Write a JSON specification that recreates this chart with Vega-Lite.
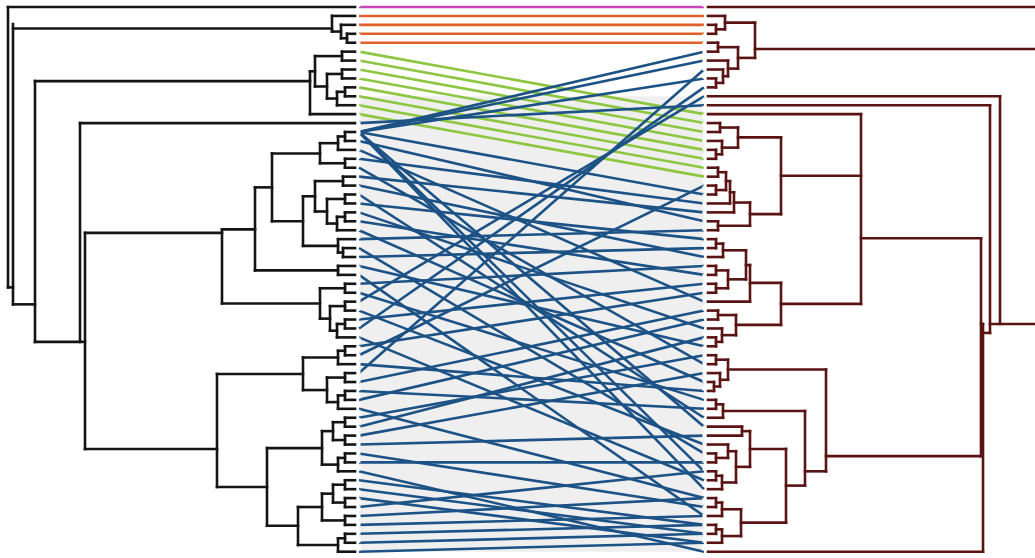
{
"$schema":"https://vega.github.io/schema/vega-lite/v6.json",
"padding":0,"spacing":0,"background":"white",
"config":{"view":{"stroke":null}},
"hconcat":[
{"width":355,"height":558,
"data":{"values":[
{"h1":0,"h2":347,"y1":0,"y2":0},{"h1":347,"h2":347,"y1":0,"y2":31.4},{"h1":342,"h2":347,"y1":31.4,"y2":31.4},{"h1":342,"h2":342,"y1":1.9,"y2":33.3},
{"h1":0,"h2":23,"y1":1,"y2":1},{"h1":0,"h2":14,"y1":2,"y2":2},{"h1":0,"h2":8,"y1":3,"y2":3},{"h1":0,"h2":8,"y1":4,"y2":4},{"h1":8,"h2":8,"y1":3,"y2":4},{"h1":8,"h2":14,"y1":3.5,"y2":3.5},{"h1":14,"h2":14,"y1":2,"y2":3.5},{"h1":14,"h2":23,"y1":2.75,"y2":2.75},{"h1":23,"h2":23,"y1":1,"y2":2.75},{"h1":23,"h2":342,"y1":2.4,"y2":2.4},
{"h1":320,"h2":342,"y1":33.3,"y2":33.3},{"h1":320,"h2":320,"y1":8.3,"y2":37.5},
{"h1":0,"h2":13,"y1":5,"y2":5},{"h1":0,"h2":13,"y1":6,"y2":6},{"h1":13,"h2":13,"y1":5,"y2":6},{"h1":13,"h2":40,"y1":5.5,"y2":5.5},
{"h1":0,"h2":13,"y1":7,"y2":7},{"h1":0,"h2":13,"y1":8,"y2":8},{"h1":13,"h2":13,"y1":7,"y2":8},{"h1":13,"h2":28,"y1":7.5,"y2":7.5},
{"h1":0,"h2":10,"y1":9,"y2":9},{"h1":0,"h2":10,"y1":10,"y2":10},{"h1":10,"h2":10,"y1":9,"y2":10},{"h1":10,"h2":18,"y1":9.5,"y2":9.5},
{"h1":0,"h2":18,"y1":11,"y2":11},{"h1":18,"h2":18,"y1":9.5,"y2":11},{"h1":18,"h2":28,"y1":10.25,"y2":10.25},
{"h1":28,"h2":28,"y1":7.5,"y2":10.25},{"h1":28,"h2":40,"y1":8.9,"y2":8.9},
{"h1":40,"h2":40,"y1":5.5,"y2":8.9},{"h1":40,"h2":45,"y1":7.2,"y2":7.2},
{"h1":0,"h2":45,"y1":12,"y2":12},{"h1":45,"h2":45,"y1":7.2,"y2":12},{"h1":45,"h2":320,"y1":8.3,"y2":8.3},
{"h1":275,"h2":320,"y1":37.5,"y2":37.5},{"h1":275,"h2":275,"y1":13,"y2":37.5},{"h1":0,"h2":275,"y1":13,"y2":13},
{"h1":270,"h2":275,"y1":37.5,"y2":37.5},{"h1":270,"h2":270,"y1":25.3,"y2":49.5},{"h1":133,"h2":270,"y1":25.3,"y2":25.3},{"h1":138,"h2":270,"y1":49.5,"y2":49.5},
{"h1":0,"h2":10,"y1":14,"y2":14},{"h1":0,"h2":10,"y1":15,"y2":15},{"h1":10,"h2":10,"y1":14,"y2":15},{"h1":10,"h2":17,"y1":14.5,"y2":14.5},
{"h1":0,"h2":17,"y1":16,"y2":16},{"h1":17,"h2":17,"y1":14.5,"y2":16},{"h1":17,"h2":35,"y1":15.25,"y2":15.25},
{"h1":0,"h2":10,"y1":17,"y2":17},{"h1":0,"h2":10,"y1":18,"y2":18},{"h1":10,"h2":10,"y1":17,"y2":18},{"h1":10,"h2":35,"y1":17.5,"y2":17.5},
{"h1":35,"h2":35,"y1":15.25,"y2":17.5},{"h1":35,"h2":83,"y1":16.4,"y2":16.4},
{"h1":0,"h2":12,"y1":19,"y2":19},{"h1":0,"h2":12,"y1":20,"y2":20},{"h1":12,"h2":12,"y1":19,"y2":20},{"h1":12,"h2":40,"y1":19.5,"y2":19.5},
{"h1":0,"h2":10,"y1":21,"y2":21},{"h1":0,"h2":10,"y1":22,"y2":22},{"h1":10,"h2":10,"y1":21,"y2":22},{"h1":10,"h2":28,"y1":21.5,"y2":21.5},
{"h1":0,"h2":10,"y1":23,"y2":23},{"h1":0,"h2":10,"y1":24,"y2":24},{"h1":10,"h2":10,"y1":23,"y2":24},{"h1":10,"h2":18,"y1":23.5,"y2":23.5},
{"h1":0,"h2":18,"y1":25,"y2":25},{"h1":18,"h2":18,"y1":23.5,"y2":25},{"h1":18,"h2":28,"y1":24.25,"y2":24.25},
{"h1":28,"h2":28,"y1":21.5,"y2":24.25},{"h1":28,"h2":40,"y1":22.9,"y2":22.9},
{"h1":40,"h2":40,"y1":19.5,"y2":22.9},{"h1":40,"h2":52,"y1":21.2,"y2":21.2},
{"h1":0,"h2":17,"y1":26,"y2":26},{"h1":0,"h2":12,"y1":27,"y2":27},{"h1":0,"h2":12,"y1":28,"y2":28},{"h1":12,"h2":12,"y1":27,"y2":28},{"h1":12,"h2":17,"y1":27.5,"y2":27.5},
{"h1":17,"h2":17,"y1":26,"y2":27.5},{"h1":17,"h2":52,"y1":26.75,"y2":26.75},
{"h1":52,"h2":52,"y1":21.2,"y2":26.75},{"h1":52,"h2":83,"y1":24,"y2":24},
{"h1":83,"h2":83,"y1":16.4,"y2":24},{"h1":83,"h2":100,"y1":20.2,"y2":20.2},
{"h1":0,"h2":17,"y1":29,"y2":29},{"h1":0,"h2":17,"y1":30,"y2":30},{"h1":17,"h2":17,"y1":29,"y2":30},{"h1":17,"h2":100,"y1":29.5,"y2":29.5},
{"h1":100,"h2":100,"y1":20.2,"y2":29.5},{"h1":100,"h2":133,"y1":24.9,"y2":24.9},
{"h1":0,"h2":10,"y1":31,"y2":31},{"h1":0,"h2":10,"y1":32,"y2":32},{"h1":10,"h2":10,"y1":31,"y2":32},{"h1":10,"h2":35,"y1":31.5,"y2":31.5},
{"h1":0,"h2":10,"y1":33,"y2":33},{"h1":0,"h2":10,"y1":34,"y2":34},{"h1":10,"h2":10,"y1":33,"y2":34},{"h1":10,"h2":25,"y1":33.5,"y2":33.5},
{"h1":0,"h2":10,"y1":35,"y2":35},{"h1":0,"h2":10,"y1":36,"y2":36},{"h1":10,"h2":10,"y1":35,"y2":36},{"h1":10,"h2":18,"y1":35.5,"y2":35.5},
{"h1":0,"h2":18,"y1":37,"y2":37},{"h1":18,"h2":18,"y1":35.5,"y2":37},{"h1":18,"h2":25,"y1":36.25,"y2":36.25},
{"h1":25,"h2":25,"y1":33.5,"y2":36.25},{"h1":25,"h2":35,"y1":34.9,"y2":34.9},
{"h1":35,"h2":35,"y1":31.5,"y2":34.9},{"h1":35,"h2":133,"y1":33.2,"y2":33.2},
{"h1":133,"h2":133,"y1":24.9,"y2":33.2},
{"h1":0,"h2":10,"y1":38,"y2":38},{"h1":0,"h2":10,"y1":39,"y2":39},{"h1":10,"h2":10,"y1":38,"y2":39},{"h1":10,"h2":17,"y1":38.5,"y2":38.5},
{"h1":0,"h2":17,"y1":40,"y2":40},{"h1":17,"h2":17,"y1":38.5,"y2":40},{"h1":17,"h2":52,"y1":39.25,"y2":39.25},
{"h1":0,"h2":10,"y1":41,"y2":41},{"h1":0,"h2":10,"y1":42,"y2":42},{"h1":10,"h2":10,"y1":41,"y2":42},{"h1":10,"h2":28,"y1":41.5,"y2":41.5},
{"h1":0,"h2":10,"y1":43,"y2":43},{"h1":0,"h2":10,"y1":44,"y2":44},{"h1":10,"h2":10,"y1":43,"y2":44},{"h1":10,"h2":17,"y1":43.5,"y2":43.5},
{"h1":0,"h2":17,"y1":45,"y2":45},{"h1":17,"h2":17,"y1":43.5,"y2":45},{"h1":17,"h2":28,"y1":44.25,"y2":44.25},
{"h1":28,"h2":28,"y1":41.5,"y2":44.25},{"h1":28,"h2":52,"y1":42.9,"y2":42.9},
{"h1":52,"h2":52,"y1":39.25,"y2":42.9},{"h1":52,"h2":138,"y1":41.1,"y2":41.1},
{"h1":0,"h2":10,"y1":46,"y2":46},{"h1":0,"h2":10,"y1":47,"y2":47},{"h1":10,"h2":10,"y1":46,"y2":47},{"h1":10,"h2":22,"y1":46.5,"y2":46.5},
{"h1":0,"h2":10,"y1":48,"y2":48},{"h1":0,"h2":10,"y1":49,"y2":49},{"h1":10,"h2":10,"y1":48,"y2":49},{"h1":10,"h2":22,"y1":48.5,"y2":48.5},
{"h1":22,"h2":22,"y1":46.5,"y2":48.5},{"h1":22,"h2":33,"y1":47.5,"y2":47.5},
{"h1":0,"h2":10,"y1":50,"y2":50},{"h1":0,"h2":10,"y1":51,"y2":51},{"h1":10,"h2":10,"y1":50,"y2":51},{"h1":10,"h2":17,"y1":50.5,"y2":50.5},
{"h1":0,"h2":17,"y1":52,"y2":52},{"h1":17,"h2":17,"y1":50.5,"y2":52},{"h1":17,"h2":33,"y1":51.25,"y2":51.25},
{"h1":33,"h2":33,"y1":47.5,"y2":51.25},{"h1":33,"h2":88,"y1":49.4,"y2":49.4},
{"h1":0,"h2":10,"y1":53,"y2":53},{"h1":0,"h2":10,"y1":54,"y2":54},{"h1":10,"h2":10,"y1":53,"y2":54},{"h1":10,"h2":22,"y1":53.5,"y2":53.5},
{"h1":0,"h2":10,"y1":55,"y2":55},{"h1":0,"h2":10,"y1":56,"y2":56},{"h1":10,"h2":10,"y1":55,"y2":56},{"h1":10,"h2":22,"y1":55.5,"y2":55.5},
{"h1":22,"h2":22,"y1":53.5,"y2":55.5},{"h1":22,"h2":33,"y1":54.5,"y2":54.5},
{"h1":0,"h2":10,"y1":57,"y2":57},{"h1":0,"h2":10,"y1":58,"y2":58},{"h1":10,"h2":10,"y1":57,"y2":58},{"h1":10,"h2":33,"y1":57.5,"y2":57.5},
{"h1":33,"h2":33,"y1":54.5,"y2":57.5},{"h1":33,"h2":57,"y1":56,"y2":56},
{"h1":0,"h2":10,"y1":59,"y2":59},{"h1":0,"h2":10,"y1":60,"y2":60},{"h1":10,"h2":10,"y1":59,"y2":60},{"h1":10,"h2":17,"y1":59.5,"y2":59.5},
{"h1":0,"h2":17,"y1":61,"y2":61},{"h1":17,"h2":17,"y1":59.5,"y2":61},{"h1":17,"h2":57,"y1":60.25,"y2":60.25},
{"h1":57,"h2":57,"y1":56,"y2":60.25},{"h1":57,"h2":88,"y1":58.1,"y2":58.1},
{"h1":88,"h2":88,"y1":49.4,"y2":58.1},{"h1":88,"h2":138,"y1":53.75,"y2":53.75},
{"h1":138,"h2":138,"y1":41.1,"y2":53.75}
]},
"mark":{"type":"rule","color":"#141414","strokeWidth":2.6,"strokeCap":"square"},
"encoding":{
"x":{"field":"h1","type":"quantitative","scale":{"domain":[0,355],"reverse":true,"nice":false,"zero":false},"axis":null},
"x2":{"field":"h2"},
"y":{"field":"y1","type":"quantitative","scale":{"domain":[-0.672,61.82],"reverse":true,"nice":false,"zero":false},"axis":null},
"y2":{"field":"y2"}}
},
{"width":345,"height":558,
"layer":[
{"data":{"values":[{"y1":10,"y2":61}]},
"mark":{"type":"rect","color":"#efefef"},
"encoding":{
"x":{"datum":0,"type":"quantitative","scale":{"domain":[0,1],"nice":false,"zero":false},"axis":null},
"x2":{"datum":1},
"y":{"field":"y1","type":"quantitative","scale":{"domain":[-0.672,61.82],"reverse":true,"nice":false,"zero":false},"axis":null},
"y2":{"field":"y2"}}},
{"data":{"values":[
{"l":0,"r":0,"g":"p"},
{"l":1,"r":1,"g":"o"},{"l":2,"r":2,"g":"o"},{"l":3,"r":3,"g":"o"},{"l":4,"r":4,"g":"o"},
{"l":5,"r":12,"g":"g"},{"l":6,"r":13,"g":"g"},{"l":7,"r":14,"g":"g"},{"l":8,"r":15,"g":"g"},{"l":9,"r":16,"g":"g"},{"l":10,"r":17,"g":"g"},{"l":11,"r":18,"g":"g"},{"l":12,"r":19,"g":"g"},
{"l":13,"r":11,"g":"b"},{"l":14,"r":5,"g":"b"},{"l":14,"r":6,"g":"b"},{"l":14,"r":8,"g":"b"},{"l":14,"r":21,"g":"b"},{"l":14,"r":47,"g":"b"},{"l":14,"r":52,"g":"b"},{"l":14,"r":54,"g":"b"},
{"l":15,"r":24,"g":"b"},{"l":16,"r":33,"g":"b"},{"l":17,"r":22,"g":"b"},{"l":18,"r":40,"g":"b"},{"l":19,"r":23,"g":"b"},{"l":20,"r":28,"g":"b"},{"l":21,"r":46,"g":"b"},{"l":22,"r":26,"g":"b"},{"l":23,"r":36,"g":"b"},{"l":24,"r":30,"g":"b"},{"l":25,"r":42,"g":"b"},{"l":26,"r":25,"g":"b"},{"l":27,"r":50,"g":"b"},{"l":28,"r":27,"g":"b"},{"l":29,"r":38,"g":"b"},{"l":30,"r":57,"g":"b"},{"l":31,"r":29,"g":"b"},{"l":32,"r":44,"g":"b"},{"l":33,"r":10,"g":"b"},{"l":34,"r":49,"g":"b"},{"l":35,"r":31,"g":"b"},{"l":36,"r":9,"g":"b"},{"l":37,"r":53,"g":"b"},{"l":38,"r":32,"g":"b"},{"l":39,"r":20,"g":"b"},{"l":40,"r":43,"g":"b"},{"l":41,"r":7,"g":"b"},{"l":42,"r":34,"g":"b"},{"l":43,"r":45,"g":"b"},{"l":44,"r":35,"g":"b"},{"l":45,"r":55,"g":"b"},{"l":46,"r":39,"g":"b"},{"l":47,"r":37,"g":"b"},{"l":48,"r":41,"g":"b"},{"l":49,"r":48,"g":"b"},{"l":50,"r":56,"g":"b"},{"l":51,"r":51,"g":"b"},{"l":52,"r":61,"g":"b"},{"l":53,"r":58,"g":"b"},{"l":54,"r":59,"g":"b"},{"l":55,"r":60,"g":"b"},{"l":56,"r":52,"g":"b"},{"l":57,"r":55,"g":"b"},{"l":58,"r":57,"g":"b"},{"l":59,"r":58,"g":"b"},{"l":60,"r":59,"g":"b"},{"l":61,"r":60,"g":"b"}
]},
"mark":{"type":"rule","strokeWidth":2.6},
"encoding":{
"x":{"datum":0,"type":"quantitative"},
"x2":{"datum":1},
"y":{"field":"l","type":"quantitative"},
"y2":{"field":"r"},
"color":{"field":"g","type":"nominal","scale":{"domain":["p","o","g","b"],"range":["#c546b4","#e0602c","#8dc641","#1c5285"]},"legend":null}}},
{"data":{"values":[{"s":0},{"s":1}]},
"mark":{"type":"rule","color":"white","strokeWidth":3,"strokeDash":[5,3]},
"encoding":{
"x":{"field":"s","type":"quantitative"},
"y":{"datum":-0.6,"type":"quantitative"},
"y2":{"datum":61.7}}}
]},
{"width":335,"height":558,
"data":{"values":[
{"h1":0,"h2":335,"y1":0,"y2":0},
{"h1":0,"h2":17,"y1":1,"y2":1},{"h1":0,"h2":8,"y1":2,"y2":2},{"h1":0,"h2":8,"y1":3,"y2":3},{"h1":8,"h2":8,"y1":2,"y2":3},{"h1":8,"h2":17,"y1":2.5,"y2":2.5},{"h1":17,"h2":17,"y1":1,"y2":2.5},{"h1":17,"h2":47,"y1":1.75,"y2":1.75},
{"h1":0,"h2":10,"y1":4,"y2":4},{"h1":0,"h2":10,"y1":5,"y2":5},{"h1":10,"h2":10,"y1":4,"y2":5},{"h1":10,"h2":30,"y1":4.5,"y2":4.5},
{"h1":0,"h2":20,"y1":6,"y2":6},{"h1":0,"h2":15,"y1":7,"y2":7},{"h1":0,"h2":8,"y1":8,"y2":8},{"h1":0,"h2":8,"y1":9,"y2":9},{"h1":8,"h2":8,"y1":8,"y2":9},{"h1":8,"h2":15,"y1":8.5,"y2":8.5},
{"h1":15,"h2":15,"y1":7,"y2":8.5},{"h1":15,"h2":20,"y1":7.75,"y2":7.75},{"h1":20,"h2":20,"y1":6,"y2":7.75},{"h1":20,"h2":30,"y1":6.9,"y2":6.9},
{"h1":30,"h2":30,"y1":4.5,"y2":6.9},{"h1":30,"h2":47,"y1":5.7,"y2":5.7},{"h1":47,"h2":47,"y1":1.75,"y2":5.7},{"h1":47,"h2":335,"y1":4.7,"y2":4.7},
{"h1":0,"h2":292,"y1":10,"y2":10},{"h1":0,"h2":282,"y1":11,"y2":11},{"h1":0,"h2":153,"y1":12,"y2":12},
{"h1":0,"h2":12,"y1":13,"y2":13},{"h1":0,"h2":12,"y1":14,"y2":14},{"h1":12,"h2":12,"y1":13,"y2":14},{"h1":12,"h2":30,"y1":13.5,"y2":13.5},
{"h1":0,"h2":14,"y1":15,"y2":15},{"h1":0,"h2":8,"y1":16,"y2":16},{"h1":0,"h2":8,"y1":17,"y2":17},{"h1":8,"h2":8,"y1":16,"y2":17},{"h1":8,"h2":14,"y1":16.5,"y2":16.5},
{"h1":14,"h2":14,"y1":15,"y2":16.5},{"h1":14,"h2":30,"y1":15.75,"y2":15.75},{"h1":30,"h2":30,"y1":13.5,"y2":15.75},{"h1":30,"h2":73,"y1":14.6,"y2":14.6},
{"h1":0,"h2":10,"y1":18,"y2":18},{"h1":0,"h2":10,"y1":19,"y2":19},{"h1":10,"h2":10,"y1":18,"y2":19},{"h1":10,"h2":18,"y1":18.5,"y2":18.5},
{"h1":0,"h2":8,"y1":20,"y2":20},{"h1":0,"h2":8,"y1":21,"y2":21},{"h1":8,"h2":8,"y1":20,"y2":21},{"h1":8,"h2":18,"y1":20.5,"y2":20.5},
{"h1":18,"h2":18,"y1":18.5,"y2":20.5},{"h1":18,"h2":22,"y1":19.5,"y2":19.5},
{"h1":0,"h2":22,"y1":22,"y2":22},{"h1":22,"h2":22,"y1":19.5,"y2":22},{"h1":22,"h2":26,"y1":20.75,"y2":20.75},
{"h1":0,"h2":26,"y1":23,"y2":23},{"h1":26,"h2":26,"y1":20.75,"y2":23},{"h1":26,"h2":42,"y1":21.9,"y2":21.9},
{"h1":0,"h2":10,"y1":24,"y2":24},{"h1":0,"h2":10,"y1":25,"y2":25},{"h1":10,"h2":10,"y1":24,"y2":25},{"h1":10,"h2":42,"y1":24.5,"y2":24.5},
{"h1":42,"h2":42,"y1":21.9,"y2":24.5},{"h1":42,"h2":73,"y1":23.2,"y2":23.2},
{"h1":73,"h2":73,"y1":14.6,"y2":23.2},{"h1":73,"h2":153,"y1":18.9,"y2":18.9},
{"h1":0,"h2":8,"y1":26,"y2":26},{"h1":0,"h2":8,"y1":27,"y2":27},{"h1":8,"h2":8,"y1":26,"y2":27},{"h1":8,"h2":15,"y1":26.5,"y2":26.5},
{"h1":0,"h2":15,"y1":28,"y2":28},{"h1":15,"h2":15,"y1":26.5,"y2":28},{"h1":15,"h2":38,"y1":27.25,"y2":27.25},
{"h1":0,"h2":8,"y1":29,"y2":29},{"h1":0,"h2":8,"y1":30,"y2":30},{"h1":8,"h2":8,"y1":29,"y2":30},{"h1":8,"h2":20,"y1":29.5,"y2":29.5},
{"h1":0,"h2":8,"y1":31,"y2":31},{"h1":0,"h2":8,"y1":32,"y2":32},{"h1":8,"h2":8,"y1":31,"y2":32},{"h1":8,"h2":20,"y1":31.5,"y2":31.5},
{"h1":20,"h2":20,"y1":29.5,"y2":31.5},{"h1":20,"h2":38,"y1":30.5,"y2":30.5},
{"h1":38,"h2":38,"y1":27.25,"y2":30.5},{"h1":38,"h2":42,"y1":28.9,"y2":28.9},
{"h1":0,"h2":42,"y1":33,"y2":33},{"h1":42,"h2":42,"y1":28.9,"y2":33},{"h1":42,"h2":73,"y1":30.9,"y2":30.9},
{"h1":0,"h2":10,"y1":34,"y2":34},{"h1":0,"h2":10,"y1":35,"y2":35},{"h1":10,"h2":10,"y1":34,"y2":35},{"h1":10,"h2":28,"y1":34.5,"y2":34.5},
{"h1":0,"h2":14,"y1":36,"y2":36},{"h1":0,"h2":8,"y1":37,"y2":37},{"h1":0,"h2":8,"y1":38,"y2":38},{"h1":8,"h2":8,"y1":37,"y2":38},{"h1":8,"h2":14,"y1":37.5,"y2":37.5},
{"h1":14,"h2":14,"y1":36,"y2":37.5},{"h1":14,"h2":28,"y1":36.75,"y2":36.75},
{"h1":28,"h2":28,"y1":34.5,"y2":36.75},{"h1":28,"h2":73,"y1":35.6,"y2":35.6},
{"h1":73,"h2":73,"y1":30.9,"y2":35.6},{"h1":73,"h2":153,"y1":33.25,"y2":33.25},
{"h1":153,"h2":153,"y1":12,"y2":33.25},{"h1":153,"h2":273,"y1":25.9,"y2":25.9},
{"h1":0,"h2":8,"y1":39,"y2":39},{"h1":0,"h2":8,"y1":40,"y2":40},{"h1":8,"h2":8,"y1":39,"y2":40},{"h1":8,"h2":20,"y1":39.5,"y2":39.5},
{"h1":0,"h2":12,"y1":41,"y2":41},{"h1":0,"h2":6,"y1":42,"y2":42},{"h1":0,"h2":6,"y1":43,"y2":43},{"h1":6,"h2":6,"y1":42,"y2":43},{"h1":6,"h2":12,"y1":42.5,"y2":42.5},
{"h1":12,"h2":12,"y1":41,"y2":42.5},{"h1":12,"h2":20,"y1":41.75,"y2":41.75},
{"h1":20,"h2":20,"y1":39.5,"y2":41.75},{"h1":20,"h2":118,"y1":40.6,"y2":40.6},
{"h1":0,"h2":8,"y1":44,"y2":44},{"h1":0,"h2":8,"y1":45,"y2":45},{"h1":8,"h2":8,"y1":44,"y2":45},{"h1":8,"h2":15,"y1":44.5,"y2":44.5},
{"h1":0,"h2":15,"y1":46,"y2":46},{"h1":15,"h2":15,"y1":44.5,"y2":46},{"h1":15,"h2":97,"y1":45.25,"y2":45.25},
{"h1":0,"h2":34,"y1":47,"y2":47},{"h1":0,"h2":34,"y1":48,"y2":48},{"h1":34,"h2":34,"y1":47,"y2":48},{"h1":34,"h2":42,"y1":47.5,"y2":47.5},
{"h1":0,"h2":20,"y1":49,"y2":49},{"h1":0,"h2":8,"y1":50,"y2":50},{"h1":0,"h2":8,"y1":51,"y2":51},{"h1":8,"h2":8,"y1":50,"y2":51},{"h1":8,"h2":20,"y1":50.5,"y2":50.5},
{"h1":20,"h2":20,"y1":49,"y2":50.5},{"h1":20,"h2":28,"y1":49.75,"y2":49.75},
{"h1":0,"h2":8,"y1":52,"y2":52},{"h1":0,"h2":8,"y1":53,"y2":53},{"h1":8,"h2":8,"y1":52,"y2":53},{"h1":8,"h2":14,"y1":52.5,"y2":52.5},
{"h1":0,"h2":14,"y1":54,"y2":54},{"h1":14,"h2":14,"y1":52.5,"y2":54},{"h1":14,"h2":28,"y1":53.25,"y2":53.25},
{"h1":28,"h2":28,"y1":49.75,"y2":53.25},{"h1":28,"h2":42,"y1":51.5,"y2":51.5},
{"h1":42,"h2":42,"y1":47.5,"y2":51.5},{"h1":42,"h2":78,"y1":49.5,"y2":49.5},
{"h1":0,"h2":8,"y1":55,"y2":55},{"h1":0,"h2":8,"y1":56,"y2":56},{"h1":8,"h2":8,"y1":55,"y2":56},{"h1":8,"h2":14,"y1":55.5,"y2":55.5},
{"h1":0,"h2":14,"y1":57,"y2":57},{"h1":14,"h2":14,"y1":55.5,"y2":57},{"h1":14,"h2":33,"y1":56.25,"y2":56.25},
{"h1":0,"h2":8,"y1":58,"y2":58},{"h1":0,"h2":8,"y1":59,"y2":59},{"h1":8,"h2":8,"y1":58,"y2":59},{"h1":8,"h2":14,"y1":58.5,"y2":58.5},
{"h1":0,"h2":14,"y1":60,"y2":60},{"h1":14,"h2":14,"y1":58.5,"y2":60},{"h1":14,"h2":33,"y1":59.25,"y2":59.25},
{"h1":33,"h2":33,"y1":56.25,"y2":59.25},{"h1":33,"h2":78,"y1":57.75,"y2":57.75},
{"h1":78,"h2":78,"y1":49.5,"y2":57.75},{"h1":78,"h2":97,"y1":53.6,"y2":53.6},
{"h1":97,"h2":97,"y1":45.25,"y2":53.6},{"h1":97,"h2":118,"y1":52,"y2":52},
{"h1":118,"h2":118,"y1":40.6,"y2":52},{"h1":118,"h2":273,"y1":50.3,"y2":50.3},
{"h1":273,"h2":273,"y1":25.9,"y2":50.3},{"h1":273,"h2":275,"y1":35.5,"y2":35.5},
{"h1":0,"h2":275,"y1":61,"y2":61},{"h1":275,"h2":275,"y1":35.5,"y2":61},
{"h1":275,"h2":282,"y1":36.5,"y2":36.5},{"h1":282,"h2":282,"y1":11,"y2":36.5},
{"h1":282,"h2":335,"y1":35.5,"y2":35.5},{"h1":292,"h2":292,"y1":10,"y2":35.5}
]},
"mark":{"type":"rule","color":"#5a1313","strokeWidth":2.6,"strokeCap":"square"},
"encoding":{
"x":{"field":"h1","type":"quantitative","scale":{"domain":[0,335],"nice":false,"zero":false},"axis":null},
"x2":{"field":"h2"},
"y":{"field":"y1","type":"quantitative","scale":{"domain":[-0.672,61.82],"reverse":true,"nice":false,"zero":false},"axis":null},
"y2":{"field":"y2"}}
}
]}
